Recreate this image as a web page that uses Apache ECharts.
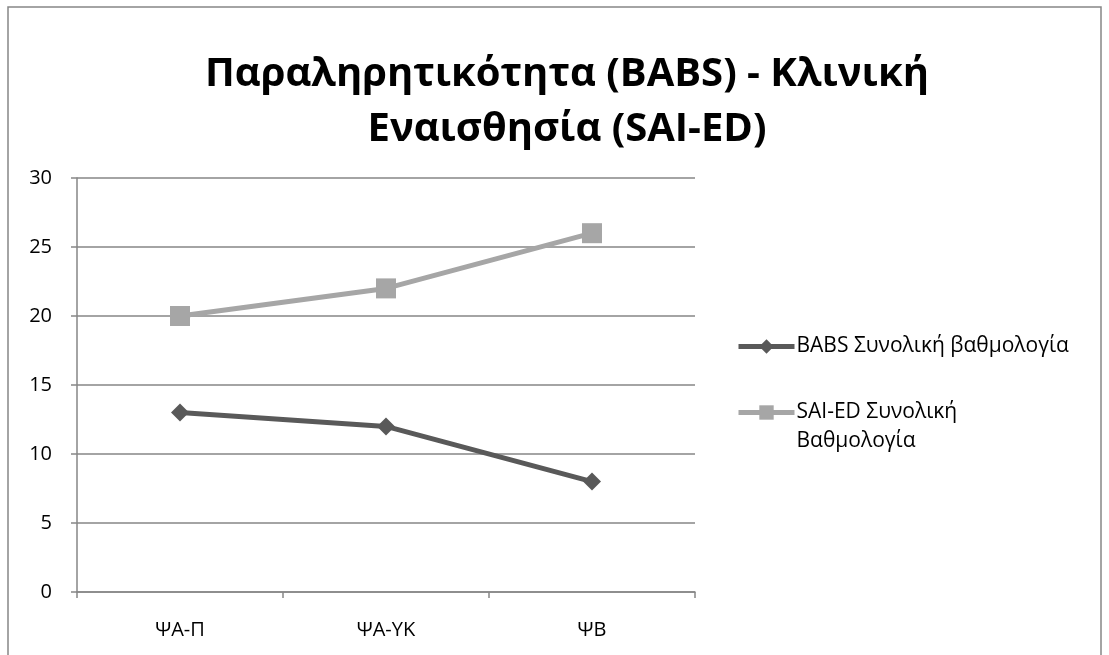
<!DOCTYPE html>
<html lang="el">
<head>
    <meta charset="UTF-8">
    <title>BABS - SAI-ED</title>
    <script src="https://cdn.jsdelivr.net/npm/echarts@6/dist/echarts.min.js"></script>
</head>
<body style="margin:0;background:#fff;">
<div id="chart" style="width:1109px;height:655px;"></div>
<script type="text/javascript">
    // data
    const categories = ['ΨΑ-Π', 'ΨΑ-ΥΚ', 'ΨΒ'];
    const babsValues = [13, 12, 8];
    const saiValues = [20, 22, 26];
    const babsName = 'BABS Συνολική βαθμολογία';
    const saiName = 'SAI-ED Συνολική Βαθμολογία';

    const font = 'Open Sans';
    let myChart = echarts.init(document.getElementById('chart'));

    let option = {
        backgroundColor: '#fff',
        textStyle: {fontFamily: font},
        // outer frame of the chart area
        graphic: [{
            type: 'rect',
            shape: {x: 8, y: 7, width: 1093, height: 700},
            style: {fill: 'none', stroke: '#868686', lineWidth: 1.5},
            silent: true
        }],
        title: {
            text: 'Παραληρητικότητα (BABS) - Κλινική\nΕναισθησία (SAI-ED)',
            left: 562,
            top: 42,
            textAlign: 'center',
            textStyle: {
                fontFamily: font,
                fontSize: 40,
                fontWeight: 'bold',
                color: '#000',
                lineHeight: 55
            }
        },
        legend: {
            orient: 'vertical',
            left: 731,
            top: 327,
            itemWidth: 56,
            itemHeight: 18,
            itemGap: 8,
            data: [babsName, saiName],
            lineStyle: {width: 5},
            // blank first line keeps the icon level with "SAI-ED Συνολική"
            formatter: function (name) {
                return name === saiName ? '{e|}\nSAI-ED Συνολική\nΒαθμολογία' : name;
            },
            textStyle: {
                fontSize: 21, color: '#000', lineHeight: 29, fontFamily: font, padding: [0, 0, 0, -3],
                rich: {e: {lineHeight: 29, fontSize: 21}}
            }
        },
        grid: {left: 77, right: 414, top: 178, bottom: 63},
        xAxis: {
            type: 'category',
            data: categories,
            boundaryGap: true,
            axisLine: {lineStyle: {color: '#868686', width: 1.5}},
            axisTick: {show: true, length: 6, lineStyle: {color: '#868686', width: 1.5}},
            axisLabel: {fontSize: 20, color: '#000', margin: 28}
        },
        yAxis: {
            type: 'value',
            min: 0,
            max: 30,
            interval: 5,
            axisLine: {show: true, lineStyle: {color: '#868686', width: 1.5}},
            axisTick: {show: true, length: 6, lineStyle: {color: '#868686', width: 1.5}},
            axisLabel: {fontSize: 20, color: '#000', margin: 25},
            splitLine: {lineStyle: {color: '#868686', width: 1.5}}
        },
        series: [
            {
                name: babsName,
                type: 'line',
                data: babsValues,
                symbol: 'diamond',
                symbolSize: 18,
                lineStyle: {color: '#595959', width: 5},
                itemStyle: {color: '#595959'}
            },
            {
                name: saiName,
                type: 'line',
                data: saiValues,
                symbol: 'rect',
                symbolSize: 20,
                lineStyle: {color: '#a6a6a6', width: 5},
                itemStyle: {color: '#a6a6a6'}
            }
        ]
    };

    myChart.setOption(option);
</script>
</body>
</html>
